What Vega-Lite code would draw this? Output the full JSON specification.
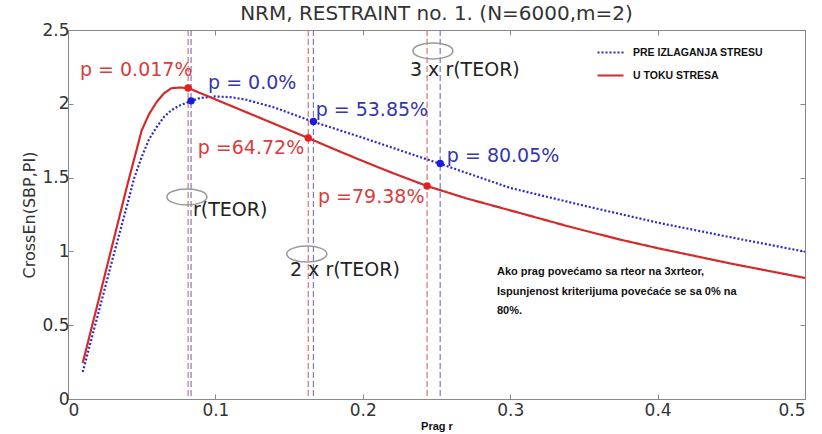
{
  "$schema": "https://vega.github.io/schema/vega-lite/v6.json",
  "width": 737,
  "height": 369,
  "autosize": {"type": "none"},
  "padding": {"left": 68, "top": 30, "right": 17, "bottom": 35},
  "background": "white",
  "title": {"text": "NRM, RESTRAINT no. 1. (N=6000,m=2)", "font": "DejaVu Sans", "fontSize": 20, "fontWeight": "normal", "color": "#333333", "offset": -3},
  "config": {
    "view": {"stroke": "#8a8a8a", "strokeWidth": 1},
    "axis": {"labelFont": "DejaVu Sans", "labelFontSize": 17, "labelColor": "#333333", "tickColor": "#888888", "tickSize": -5, "domain": false, "grid": false, "labelPadding": 8}
  },
  "datasets": {
    "curves": [
      {"series": "PRE IZLAGANJA STRESU", "r": 0.01, "v": 0.183},
      {"series": "PRE IZLAGANJA STRESU", "r": 0.02, "v": 0.56},
      {"series": "PRE IZLAGANJA STRESU", "r": 0.03, "v": 0.94},
      {"series": "PRE IZLAGANJA STRESU", "r": 0.04, "v": 1.31},
      {"series": "PRE IZLAGANJA STRESU", "r": 0.045, "v": 1.5},
      {"series": "PRE IZLAGANJA STRESU", "r": 0.05, "v": 1.64},
      {"series": "PRE IZLAGANJA STRESU", "r": 0.055, "v": 1.76},
      {"series": "PRE IZLAGANJA STRESU", "r": 0.06, "v": 1.84},
      {"series": "PRE IZLAGANJA STRESU", "r": 0.065, "v": 1.91},
      {"series": "PRE IZLAGANJA STRESU", "r": 0.07, "v": 1.955},
      {"series": "PRE IZLAGANJA STRESU", "r": 0.075, "v": 1.985},
      {"series": "PRE IZLAGANJA STRESU", "r": 0.0835, "v": 2.02},
      {"series": "PRE IZLAGANJA STRESU", "r": 0.09, "v": 2.04},
      {"series": "PRE IZLAGANJA STRESU", "r": 0.1, "v": 2.05},
      {"series": "PRE IZLAGANJA STRESU", "r": 0.11, "v": 2.045},
      {"series": "PRE IZLAGANJA STRESU", "r": 0.12, "v": 2.03},
      {"series": "PRE IZLAGANJA STRESU", "r": 0.14, "v": 1.975},
      {"series": "PRE IZLAGANJA STRESU", "r": 0.166, "v": 1.88},
      {"series": "PRE IZLAGANJA STRESU", "r": 0.2, "v": 1.77},
      {"series": "PRE IZLAGANJA STRESU", "r": 0.252, "v": 1.595},
      {"series": "PRE IZLAGANJA STRESU", "r": 0.3, "v": 1.43},
      {"series": "PRE IZLAGANJA STRESU", "r": 0.35, "v": 1.31},
      {"series": "PRE IZLAGANJA STRESU", "r": 0.4, "v": 1.195},
      {"series": "PRE IZLAGANJA STRESU", "r": 0.45, "v": 1.095},
      {"series": "PRE IZLAGANJA STRESU", "r": 0.5, "v": 0.998},
      {"series": "U TOKU STRESA", "r": 0.01, "v": 0.244},
      {"series": "U TOKU STRESA", "r": 0.02, "v": 0.64},
      {"series": "U TOKU STRESA", "r": 0.03, "v": 1.04},
      {"series": "U TOKU STRESA", "r": 0.04, "v": 1.44},
      {"series": "U TOKU STRESA", "r": 0.05, "v": 1.82},
      {"series": "U TOKU STRESA", "r": 0.055, "v": 1.93},
      {"series": "U TOKU STRESA", "r": 0.06, "v": 2.01},
      {"series": "U TOKU STRESA", "r": 0.065, "v": 2.07},
      {"series": "U TOKU STRESA", "r": 0.07, "v": 2.105},
      {"series": "U TOKU STRESA", "r": 0.075, "v": 2.11},
      {"series": "U TOKU STRESA", "r": 0.0815, "v": 2.107},
      {"series": "U TOKU STRESA", "r": 0.1, "v": 2.03},
      {"series": "U TOKU STRESA", "r": 0.12, "v": 1.947},
      {"series": "U TOKU STRESA", "r": 0.14, "v": 1.864},
      {"series": "U TOKU STRESA", "r": 0.163, "v": 1.768},
      {"series": "U TOKU STRESA", "r": 0.18, "v": 1.695},
      {"series": "U TOKU STRESA", "r": 0.2, "v": 1.612},
      {"series": "U TOKU STRESA", "r": 0.22, "v": 1.532},
      {"series": "U TOKU STRESA", "r": 0.2436, "v": 1.443},
      {"series": "U TOKU STRESA", "r": 0.27, "v": 1.36},
      {"series": "U TOKU STRESA", "r": 0.3066, "v": 1.26},
      {"series": "U TOKU STRESA", "r": 0.34, "v": 1.168},
      {"series": "U TOKU STRESA", "r": 0.3745, "v": 1.08},
      {"series": "U TOKU STRESA", "r": 0.4, "v": 1.022},
      {"series": "U TOKU STRESA", "r": 0.45, "v": 0.917},
      {"series": "U TOKU STRESA", "r": 0.5, "v": 0.82}
    ],
    "vlines": [
      {"r": 0.0815, "c": "#e07070"},
      {"r": 0.0835, "c": "#7878d0"},
      {"r": 0.163, "c": "#e07070"},
      {"r": 0.1665, "c": "#7878d0"},
      {"r": 0.2436, "c": "#e07070"},
      {"r": 0.2525, "c": "#7878d0"}
    ],
    "markers": [
      {"r": 0.0815, "v": 2.107, "c": "#e52020"},
      {"r": 0.163, "v": 1.768, "c": "#e52020"},
      {"r": 0.2436, "v": 1.443, "c": "#e52020"},
      {"r": 0.0835, "v": 2.02, "c": "#1a1ae0"},
      {"r": 0.1665, "v": 1.88, "c": "#1a1ae0"},
      {"r": 0.2525, "v": 1.595, "c": "#1a1ae0"}
    ],
    "ellipses": [
      {"r": 0.0807, "v": 1.369},
      {"r": 0.162, "v": 0.982},
      {"r": 0.2476, "v": 2.358}
    ],
    "labels": [
      {"label": "p = 0.017%", "r": 0.0081, "v": 2.229, "c": "#d83c3c"},
      {"label": "p = 0.0%", "r": 0.095, "v": 2.141, "c": "#3535b0"},
      {"label": "p = 53.85%", "r": 0.168, "v": 1.958, "c": "#3535b0"},
      {"label": "p =64.72%", "r": 0.088, "v": 1.7, "c": "#d83c3c"},
      {"label": "p =79.38%", "r": 0.1696, "v": 1.369, "c": "#d83c3c"},
      {"label": "p = 80.05%", "r": 0.257, "v": 1.646, "c": "#3535b0"},
      {"label": "r(TEOR)", "r": 0.0848, "v": 1.28, "c": "#222222"},
      {"label": "2 x r(TEOR)", "r": 0.1506, "v": 0.874, "c": "#222222"},
      {"label": "3 x r(TEOR)", "r": 0.232, "v": 2.229, "c": "#222222"}
    ],
    "notes": [
      {"label": "Ako prag povećamo sa rteor na 3xrteor,", "r": 0.291, "v": 0.86},
      {"label": "Ispunjenost kriterijuma povećaće se sa 0% na", "r": 0.291, "v": 0.725},
      {"label": "80%.", "r": 0.291, "v": 0.596}
    ]
  },
  "layer": [
    {
      "data": {"name": "vlines"},
      "mark": {"type": "rule", "strokeDash": [6, 3], "strokeWidth": 1.2},
      "encoding": {
        "x": {"field": "r", "type": "quantitative", "scale": {"domain": [0, 0.5], "nice": false}, "axis": null},
        "color": {"field": "c", "type": "nominal", "scale": null}
      }
    },
    {
      "data": {"name": "curves"},
      "mark": {"type": "line", "strokeWidth": 2.2},
      "encoding": {
        "x": {"field": "r", "type": "quantitative", "scale": {"domain": [0, 0.5], "nice": false},
          "axis": {"orient": "bottom", "values": [0, 0.1, 0.2, 0.3, 0.4, 0.5], "format": "~g", "title": "Prag r", "titleFont": "Liberation Sans", "titleFontSize": 11, "titleFontWeight": "bold", "titleColor": "#111111", "titlePadding": 2}},
        "y": {"field": "v", "type": "quantitative", "scale": {"domain": [0, 2.5], "nice": false},
          "axis": {"orient": "left", "values": [0, 0.5, 1, 1.5, 2, 2.5], "format": "~g", "title": "CrossEn(SBP,PI)", "titleFont": "DejaVu Sans", "titleFontSize": 16, "titleFontWeight": "normal", "titleColor": "#333333", "titlePadding": 4, "labelPadding": 4}},
        "color": {"field": "series", "type": "nominal",
          "scale": {"domain": ["PRE IZLAGANJA STRESU", "U TOKU STRESA"], "range": ["#2a2ac8", "#d42a2a"]},
          "legend": {"title": null, "orient": "none", "legendX": 528, "legendY": 8, "symbolType": "stroke", "symbolSize": 676, "symbolStrokeWidth": 2.2, "labelFont": "Liberation Sans", "labelFontSize": 10.5, "labelFontWeight": "bold", "labelColor": "#111111", "labelOffset": 8, "rowPadding": 3}},
        "strokeDash": {"field": "series", "type": "nominal",
          "scale": {"domain": ["PRE IZLAGANJA STRESU", "U TOKU STRESA"], "range": [[2, 2], [1, 0]]}}
      }
    },
    {
      "data": {"name": "markers"},
      "mark": {"type": "point", "filled": true, "size": 55, "opacity": 1},
      "encoding": {
        "x": {"field": "r", "type": "quantitative", "scale": {"domain": [0, 0.5], "nice": false},
          "axis": {"orient": "top", "values": [0, 0.1, 0.2, 0.3, 0.4, 0.5], "labels": false, "title": null}},
        "y": {"field": "v", "type": "quantitative", "scale": {"domain": [0, 2.5], "nice": false},
          "axis": {"orient": "right", "values": [0, 0.5, 1, 1.5, 2, 2.5], "labels": false, "title": null}},
        "color": {"field": "c", "type": "nominal", "scale": null}
      }
    },
    {
      "data": {"name": "ellipses"},
      "mark": {"type": "point", "shape": "M-1,0A1,0.4,0,1,1,1,0A1,0.4,0,1,1,-1,0Z", "size": 1600, "filled": false, "color": "#999999", "strokeWidth": 1.5, "opacity": 1},
      "encoding": {
        "x": {"field": "r", "type": "quantitative", "scale": {"domain": [0, 0.5], "nice": false}, "axis": null},
        "y": {"field": "v", "type": "quantitative", "scale": {"domain": [0, 2.5], "nice": false}, "axis": null}
      }
    },
    {
      "data": {"name": "labels"},
      "mark": {"type": "text", "align": "left", "baseline": "middle", "font": "DejaVu Sans", "fontSize": 19},
      "encoding": {
        "x": {"field": "r", "type": "quantitative", "scale": {"domain": [0, 0.5], "nice": false}, "axis": null},
        "y": {"field": "v", "type": "quantitative", "scale": {"domain": [0, 2.5], "nice": false}, "axis": null},
        "text": {"field": "label", "type": "nominal"},
        "color": {"field": "c", "type": "nominal", "scale": null}
      }
    },
    {
      "data": {"name": "notes"},
      "mark": {"type": "text", "align": "left", "baseline": "middle", "font": "Liberation Sans", "fontSize": 11, "fontWeight": "bold", "color": "#111111"},
      "encoding": {
        "x": {"field": "r", "type": "quantitative", "scale": {"domain": [0, 0.5], "nice": false}, "axis": null},
        "y": {"field": "v", "type": "quantitative", "scale": {"domain": [0, 2.5], "nice": false}, "axis": null},
        "text": {"field": "label", "type": "nominal"}
      }
    }
  ],
  "resolve": {"axis": {"x": "independent", "y": "independent"}}
}
